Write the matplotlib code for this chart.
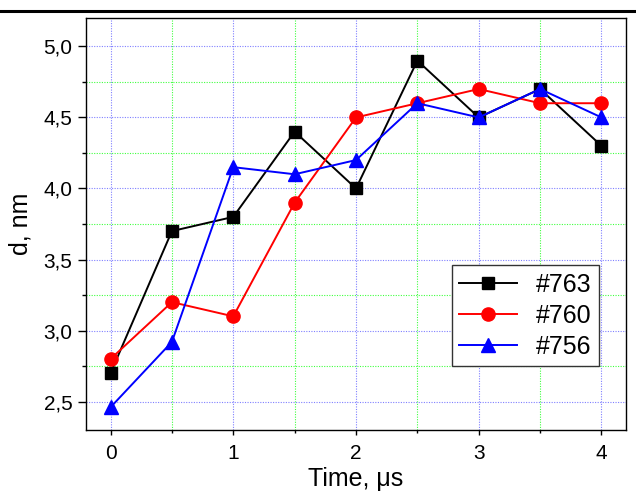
import matplotlib
matplotlib.use('Agg')
import matplotlib.pyplot as plt
from matplotlib.ticker import MultipleLocator, FuncFormatter
from matplotlib.lines import Line2D

plt.rcParams['font.family'] = ['Liberation Sans', 'DejaVu Sans']

# data
time_us = [0, 0.5, 1, 1.5, 2, 2.5, 3, 3.5, 4]
d_763 = [2.70, 3.70, 3.80, 4.40, 4.00, 4.90, 4.50, 4.70, 4.30]
d_760 = [2.80, 3.20, 3.10, 3.90, 4.50, 4.60, 4.70, 4.60, 4.60]
d_756 = [2.46, 2.92, 4.15, 4.10, 4.20, 4.60, 4.50, 4.70, 4.50]
labels = ['#763', '#760', '#756']

fig = plt.figure(figsize=(6.36, 5.01), dpi=100)
ax = fig.add_axes([0.1352, 0.1417, 0.8491, 0.8224])

ax.plot(time_us, d_763, '-s', color='black', lw=1.4, ms=8.5, label=labels[0])
ax.plot(time_us, d_760, '-o', color='red', lw=1.4, ms=9.5, label=labels[1])
ax.plot(time_us, d_756, '-^', color='blue', lw=1.4, ms=10, label=labels[2])

ax.set_xlim(-0.2, 4.2)
ax.set_ylim(2.3, 5.2)
ax.xaxis.set_major_locator(MultipleLocator(1))
ax.xaxis.set_minor_locator(MultipleLocator(0.5))
ax.yaxis.set_major_locator(MultipleLocator(0.5))
ax.yaxis.set_minor_locator(MultipleLocator(0.25))
ax.yaxis.set_major_formatter(FuncFormatter(lambda v, p: f'{v:.1f}'.replace('.', ',')))

ax.grid(which='major', color='#8080ff', lw=0.8, linestyle=(0, (1, 1.3)))
ax.grid(which='minor', color='#40ff40', lw=0.8, linestyle=(0, (1, 1.3)))
ax.set_axisbelow(True)

ax.tick_params(axis='y', which='major', direction='out', length=5.8, width=1, labelsize=15, pad=4)
ax.tick_params(axis='y', which='minor', direction='out', length=3, width=1)
ax.tick_params(axis='x', which='major', direction='out', length=3.8, width=1, labelsize=15, pad=6)
ax.tick_params(axis='x', which='minor', direction='out', length=2.5, width=1)
ax.tick_params(top=False, right=False, which='both')
for s in ax.spines.values():
    s.set_linewidth(1)

ax.set_xlabel('Time, \u03bcs', fontsize=18, labelpad=3)
ax.set_ylabel('d, nm', fontsize=18, labelpad=8)

leg = ax.legend(loc='lower right', bbox_to_anchor=(0.95, 0.155), borderaxespad=0,
                fontsize=18, fancybox=False, framealpha=1, edgecolor='#333333',
                handlelength=2.3, handletextpad=0.76, borderpad=0.3, labelspacing=0.28)
leg.get_frame().set_linewidth(1)

# thick rule across the top of the figure
fig.add_artist(Line2D([0, 1], [0.978, 0.978], color='black', lw=2.2, transform=fig.transFigure))

fig.savefig('out.png', dpi=100)
